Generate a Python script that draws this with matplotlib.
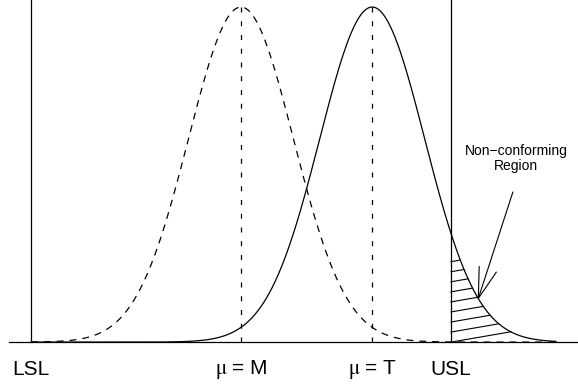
import numpy as np
import matplotlib
matplotlib.use('Agg')
import matplotlib.pyplot as plt

plt.rcParams['font.family'] = ['Liberation Sans', 'DejaVu Sans']
plt.rcParams['mathtext.fontset'] = 'stix'

# process data (in units of sigma, centred on M)
lsl, usl = -4.0, 4.0
mean_m, mean_t = 0.0, 2.5
sigma = 1.0
x_range = [-4.0, 6.0]
label_pos = [lsl, mean_m, mean_t, usl]
label_text = ['LSL', r'$\mathrm{\mu}$ = M', r'$\mathrm{\mu}$ = T', 'USL']

# hatch lines in the non-conforming region (start heights at USL)
hatch_starts = [0.24, 0.21, 0.18, 0.15, 0.12, 0.09, 0.06, 0.03, 0.0]
hatch_slope = 0.027


def bell(x, mu):
  return np.exp(-0.5 * ((x - mu) / sigma) ** 2)


fig = plt.figure(figsize=(5.78, 3.86), dpi=100)
ax = fig.add_axes([0, 0, 1, 1])
ax.set_xlim(-4.59, 6.42)
ax.set_ylim(-0.131, 1.021)
ax.axis('off')

lw = 0.9
x = np.linspace(x_range[0], x_range[1], 600)

# the two distributions
ax.plot(x, bell(x, mean_m), color='black', lw=lw, linestyle='--', dashes=(5.5, 4.8))
ax.plot(x, bell(x, mean_t), color='black', lw=lw)

# baseline + spec limits
ax.plot([-4.42, 6.42], [0, 0], color='black', lw=lw)
for s in (lsl, usl):
  ax.plot([s, s], [0, 1.021], color='black', lw=lw)

# means
for m in (mean_m, mean_t):
  ax.plot([m, m], [0, 1], color='black', lw=lw, linestyle='--', dashes=(4, 7))

# hatching between USL and solid curve
xs = np.linspace(usl, x_range[1], 3000)
curve = bell(xs, mean_t)
for h in hatch_starts:
  line = h + hatch_slope * (xs - usl)
  idx = np.argmax(line >= curve)
  ax.plot([usl, xs[idx]], [h, line[idx]], color='black', lw=0.8)

# labels under the axis
for p, t in zip(label_pos, label_text):
  ax.text(p, -0.081, t, ha='center', va='center', fontsize=15)

# annotation
ax.text(5.24, 0.548, 'Non\u2212conforming\nRegion', ha='center', va='center',
        fontsize=10, linespacing=1.05)
ax.annotate('', xy=(4.51, 0.125), xytext=(5.18, 0.448),
            arrowprops=dict(arrowstyle='->,head_length=22,head_width=6.5',
                            mutation_scale=1, lw=0.8, color='black',
                            shrinkA=0, shrinkB=0))

plt.savefig('out.png', dpi=100)
